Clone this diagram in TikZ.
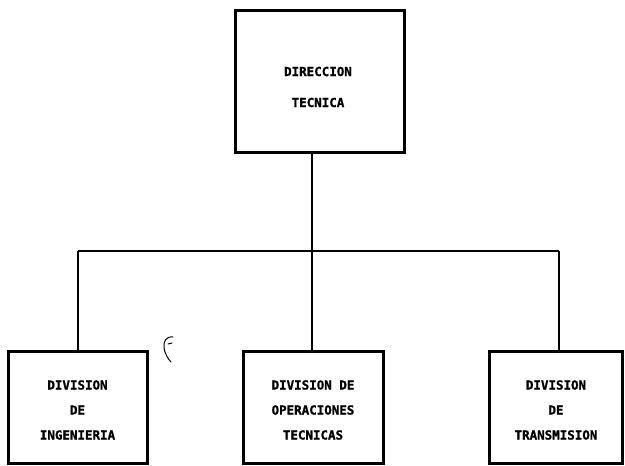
\documentclass[tikz,border=0pt]{standalone}
\usepackage{fontspec}
\newfontfamily\boxfont[BoldFeatures={FakeBold=1.2}]{DejaVu Sans Mono}
\begin{document}
\begin{tikzpicture}[x=1pt,y=-1pt,
  box/.style={draw, line width=3pt, inner sep=0pt},
  conn/.style={line width=1.6pt},
  lbl/.style={font=\boxfont\bfseries\fontsize{12.5}{14}\selectfont, align=center, inner sep=0pt},
  scrib/.style={line width=1pt, line cap=round}]
\useasboundingbox (0,0) rectangle (625,466);
% boxes
\node[box, minimum width=169pt, minimum height=142pt] (top) at (319.5,81) {};
\node[box, minimum width=139pt, minimum height=112pt] (left) at (77.5,407) {};
\node[box, minimum width=140pt, minimum height=112pt] (mid) at (313,407) {};
\node[box, minimum width=133pt, minimum height=112pt] (right) at (555.5,407) {};
% labels
\node[lbl] (toptxt) at (318,87) {DIRECCION\\[17pt]TECNICA};
\node[lbl] (lefttxt) at (77.5,410) {DIVISION\\[11pt]DE\\[11pt]INGENIERIA};
\node[lbl] (midtxt) at (313,410) {DIVISION DE\\[11pt]OPERACIONES\\[11pt]TECNICAS};
\node[lbl] (righttxt) at (556,410) {DIVISION\\[11pt]DE\\[11pt]TRANSMISION};
% connectors
\coordinate (busL) at (78,251);
\coordinate (busM) at (312,251);
\coordinate (busR) at (559,251);
\draw[conn] (busM |- top.south) -- (busM |- mid.north);
\draw[conn] (busL) -- (busR);
\draw[conn] (busL) -- (busL |- left.north);
\draw[conn] (busR) -- (busR |- right.north);
% handwritten mark
\draw[scrib] (173,337) .. controls (166,336) and (163,342) .. (164,348) .. controls (165,354) and (168,359) .. (171,362);
\draw[scrib] (168,344) -- (172,343);
\end{tikzpicture}
\end{document}
